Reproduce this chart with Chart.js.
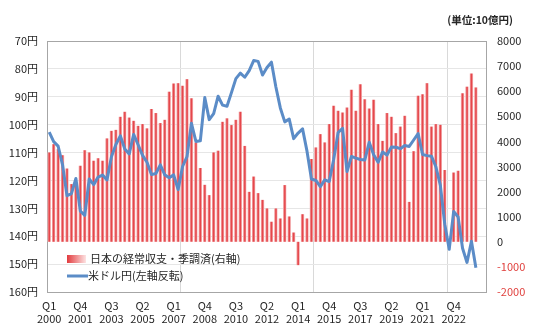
<!DOCTYPE html>
<html lang="ja">
<head>
<meta charset="utf-8">
<script src="https://cdn.jsdelivr.net/npm/chart.js@4.4.1/dist/chart.umd.min.js"></script>
<style>
html, body { margin: 0; padding: 0; background: #fff; }
#wrap { width: 540px; height: 335px; }
</style>
</head>
<body>
<div id="wrap"><canvas id="ca-chart" width="540" height="335"></canvas></div>
<script>
const years = ['2000', '2001', '2002', '2003', '2004', '2005', '2006', '2007', '2008', '2009', '2010', '2011', '2012',
    '2013', '2014', '2015', '2016', '2017', '2018', '2019', '2020', '2021', '2022', '2023', '2024'];
const quarterNames = ['Q1', 'Q2', 'Q3', 'Q4'];
const quarterCount = 97;   // 2000 Q1 .. 2024 Q1
const blankSlots = 2;      // empty rows at the end of the sheet

// 経常収支 季調済 (10億円), one value per quarter
const currentAccount = [
    3560, 3890, 3690, 3450,  2920, 2300, 2250, 3030,  3650, 3560, 3230, 3330,  3230, 4120, 4420, 4460,
    4980, 5180, 4950, 4820,  4620, 4690, 4520, 5290,  5130, 4730, 4860, 5980,  6310, 6320, 6220, 6480,
    5720, 3960, 2940, 2270,  1860, 3560, 3630, 4780,  4920, 4650, 4860, 5180,  3820, 1990, 2600, 1940,
    1670, 1330, 800, 1330,   930, 2260, 1010, 370,    -930, 1100, 930, 3300,   3760, 4290, 3960, 4690,
    5420, 5220, 5150, 5350,  6060, 5220, 6280, 5680,  5310, 5660, 4690, 4020,  5130, 4980, 4330, 4590,
    5020, 1590, 3610, 5820,  5880, 6320, 4590, 4690,  4660, 2860, 0, 2760,     2830, 5920, 6180, 6710,
    6150
];

// 米ドル円 (quarter end)
const usdJpy = [
    102.7, 106.1, 107.7, 114.4,  125.5, 124.7, 119.3, 131.0,  132.5, 119.5, 121.5, 118.8,
    118.1, 119.8, 111.5, 107.1,  104.0, 108.7, 110.5, 103.5,  107.2, 111.0, 113.5, 117.9,
    117.5, 114.4, 118.0, 119.0,  118.0, 123.3, 115.0, 111.5,  99.5, 106.0, 105.8, 90.3,
    98.2, 96.0, 89.8, 93.0,      93.4, 88.5, 83.5, 81.5,      83.0, 80.6, 77.0, 77.3,
    82.2, 79.5, 77.6, 86.5,      94.0, 99.0, 98.0, 105.0,     103.0, 101.5, 109.5, 119.5,
    120.0, 122.2, 119.8, 120.4,  112.5, 102.8, 101.3, 116.8,  111.4, 112.0, 112.5, 112.7,
    106.3, 110.8, 113.5, 109.8,  110.9, 108.0, 108.1, 108.6,  107.5, 107.8, 105.5, 103.2,
    110.7, 111.1, 111.3, 115.1,  121.7, 135.7, 144.7, 131.1,  133.1, 144.3, 149.4, 141.8,
    151.3
];

const yenTicks = [70, 80, 90, 100, 110, 120, 130, 140, 150, 160];
const balanceTicks = [-2000, -1000, 0, 1000, 2000, 3000, 4000, 5000, 6000, 7000, 8000];

const barLabel = '日本の経常収支・季調済(右軸)';
const lineLabel = '米ドル円(左軸反転)';
const unitLabel = '(単位:10億円)';

const categories = [];
for (let i = 0; i < quarterCount; i++) {
    categories.push(quarterNames[i % 4] + ' ' + years[Math.floor(i / 4)]);
}
for (let i = 0; i < blankSlots; i++) categories.push('');

const FONT = '"Noto Sans CJK JP", sans-serif';
const LINE_BLUE = '#5b8cc7';
const TEXT = '#262626';

Chart.defaults.font.family = FONT;
Chart.defaults.font.size = 11;
Chart.defaults.color = TEXT;

// excel style gradient on each thin bar: pale edges, red core
function barFill(c) {
    const chart = c.chart;
    const xs = chart.scales.x;
    const cx = (xs && c.dataIndex !== undefined) ? xs.getPixelForValue(c.dataIndex) : NaN;
    if (!Number.isFinite(cx)) return '#e9676a';
    const half = 1.7;
    const g = chart.ctx.createLinearGradient(cx - half, 0, cx + half, 0);
    g.addColorStop(0, '#f6b9ba');
    g.addColorStop(0.45, '#e5474b');
    g.addColorStop(0.6, '#e5474b');
    g.addColorStop(1, '#f8cfd0');
    return g;
}

// frame, in-plot legend and unit label
const chartDecor = {
    id: 'chartDecor',
    beforeDatasetsDraw(chart) {
        const { ctx, chartArea: a } = chart;
        ctx.save();
        ctx.strokeStyle = '#a6a6a6';
        ctx.lineWidth = 1;
        ctx.strokeRect(a.left + 0.5, a.top + 0.5, a.right - a.left - 1, a.bottom - a.top);
        ctx.restore();
    },
    afterDraw(chart) {
        const { ctx, chartArea: a } = chart;
        ctx.save();
        ctx.textBaseline = 'middle';

        ctx.font = 'bold 10.5px ' + FONT;
        ctx.textAlign = 'right';
        ctx.fillStyle = TEXT;
        ctx.fillText(unitLabel, 513, 20);

        ctx.textAlign = 'left';
        ctx.font = '11px ' + FONT;
        const x0 = a.left + 20;
        const grad = ctx.createLinearGradient(x0, 0, x0 + 19, 0);
        grad.addColorStop(0, '#e23b3e');
        grad.addColorStop(1, '#fde3e3');
        ctx.fillStyle = grad;
        ctx.fillRect(x0, 255, 19, 8);
        ctx.fillStyle = TEXT;
        ctx.fillText(barLabel, x0 + 23, 259);

        ctx.strokeStyle = LINE_BLUE;
        ctx.lineWidth = 3;
        ctx.beginPath();
        ctx.moveTo(x0, 276);
        ctx.lineTo(x0 + 21, 276);
        ctx.stroke();
        ctx.fillText(lineLabel, x0 + 21, 276);
        ctx.restore();
    }
};

const ctx = document.getElementById('ca-chart').getContext('2d');
new Chart(ctx, {
    type: 'bar',
    data: {
        labels: categories,
        datasets: [{
            type: 'bar',
            label: barLabel,
            data: currentAccount,
            yAxisID: 'yR',
            backgroundColor: barFill,
            borderWidth: 0,
            barPercentage: 0.76,
            categoryPercentage: 1,
            order: 2
        }, {
            type: 'line',
            label: lineLabel,
            data: usdJpy,
            yAxisID: 'yL',
            borderColor: LINE_BLUE,
            borderWidth: 3,
            pointRadius: 0,
            tension: 0,
            borderJoinStyle: 'round',
            fill: false,
            order: 1
        }]
    },
    options: {
        responsive: false,
        animation: false,
        devicePixelRatio: 1,
        layout: { padding: { top: 41, left: 0, right: 0, bottom: 0 } },
        plugins: {
            legend: { display: false },
            tooltip: { enabled: false }
        },
        scales: {
            x: {
                offset: true,
                grid: {
                    offset: true,
                    drawTicks: false,
                    color: (c) => (c.index > 0 && c.index % 30 === 0) ? '#d9d9d9' : 'rgba(0,0,0,0)'
                },
                border: { display: false },
                ticks: {
                    autoSkip: false,
                    maxRotation: 0,
                    padding: 7,
                    font: { size: 11, lineHeight: 1.2 },
                    callback: function(value, index) {
                        const lab = categories[index];
                        if (!lab || index % 7 !== 0) return '';
                        return lab.split(' ');
                    }
                },
                afterFit: (scale) => { scale.height = 43; }
            },
            yL: {
                position: 'left',
                reverse: true,
                min: yenTicks[0],
                max: yenTicks[yenTicks.length - 1],
                afterBuildTicks: (scale) => { scale.ticks = yenTicks.map(v => ({ value: v })); },
                grid: { color: '#e6e6e6', drawTicks: false },
                border: { display: false },
                ticks: {
                    padding: 9,
                    callback: (v) => v + '円'
                },
                afterFit: (scale) => { scale.width = 47; }
            },
            yR: {
                position: 'right',
                min: balanceTicks[0],
                max: balanceTicks[balanceTicks.length - 1],
                afterBuildTicks: (scale) => { scale.ticks = balanceTicks.map(v => ({ value: v })); },
                grid: { display: false, drawTicks: false },
                border: { display: false },
                ticks: {
                    padding: 10,
                    color: (c) => c.tick && c.tick.value < 0 ? '#e0413e' : TEXT,
                    callback: (v) => String(v)
                },
                afterFit: (scale) => { scale.width = 53; }
            }
        }
    },
    plugins: [chartDecor]
});
</script>
</body>
</html>
